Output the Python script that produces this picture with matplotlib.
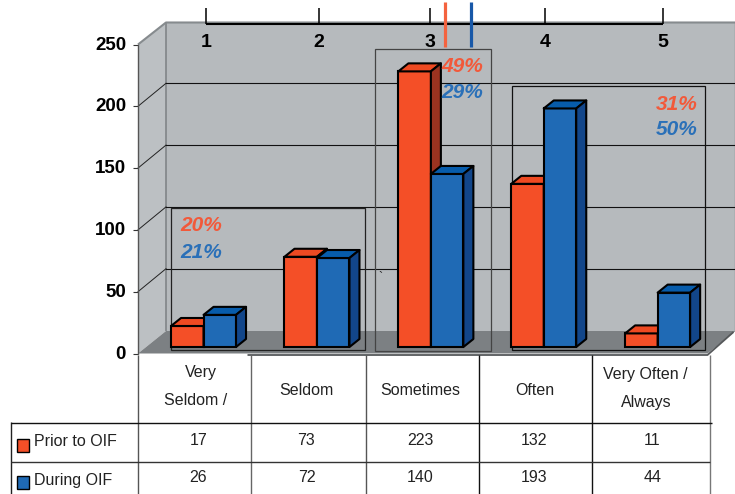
import matplotlib
matplotlib.use("Agg")
import matplotlib.pyplot as plt
from matplotlib.patches import Polygon, Rectangle
from matplotlib.transforms import Affine2D, ScaledTranslation

plt.rcParams['font.family'] = ['Liberation Sans', 'DejaVu Sans']

# values
categories = [["Very", "Seldom /"], ["Seldom"], ["Sometimes"], ["Often"], ["Very Often /", "Always"]]
prior = [17, 73, 223, 132, 11]
during = [26, 72, 140, 193, 44]
yticks = [0, 50, 100, 150, 200, 250]
top_labels = ["1", "2", "3", "4", "5"]
percent_prior = ["20%", "49%", "31%"]
percent_during = ["21%", "29%", "50%"]

ORANGE = ("#f44f27", "#ee4a22", "#9a3320")
BLUE = ("#1f6ab5", "#075cab", "#12468a")
WALL = "#b6babd"
SIDE = "#bcc0c3"
FLOOR = "#7c8083"

W, H = 735, 494
X0, X1 = 138.0, 707.5
Y0, Y250 = 353.5, 44.5

fig = plt.figure(figsize=(W / 100, H / 100), dpi=100)
ax = fig.add_axes([X0 / W, 1 - Y0 / H, (X1 - X0) / W, (Y0 - Y250) / H])
ax.set_xlim(0, 5)
ax.set_ylim(0, 250)
ax.patch.set_visible(False)

# px per data unit
ux = (X1 - X0) / 5
uy = (Y0 - Y250) / 250

# anything that is not data goes in picture pixels
px = Affine2D().scale(1, -1).translate(-0.5, H)

wall_dx = 28 / ux
wall_dy = 23 / uy
right_end = (735 - X0) / ux


def chrome(patch):
    patch.set_transform(px)
    patch.set_clip_on(False)
    ax.add_patch(patch)


def pline(xs, ys, color="black", lw=0.8, z=2):
    ax.plot(xs, ys, color=color, lw=lw, transform=px, clip_on=False, zorder=z,
            solid_capstyle="butt")


def ptext(x, y, s, **kw):
    ax.text(x, y, s, transform=px, ha="center", va="center", clip_on=False, **kw)


# walls and floor
chrome(Polygon([(166.5, 22), (736, 22), (736, 331), (166.5, 331)], fc=WALL, ec="none", zorder=0))
chrome(Polygon([(138.5, 44.5), (166.5, 22), (166.5, 331), (138.5, 353.5)], fc=SIDE, ec="none", zorder=0))
chrome(Polygon([(138.5, 353.5), (166.5, 331), (736, 331), (708, 353.5)], fc=FLOOR, ec="none", zorder=0))
pline([138.5, 166.5, 736], [44.5, 22.5, 22.5], color="#868b8e", lw=1.5, z=1)
pline([166.5, 166.5], [22, 331], color="#85898c", lw=1.3, z=1)
pline([735, 735], [22, 331], color="#85898c", lw=1.0, z=1)
pline([248, 708, 734], [355, 355, 332], color="#55585a", lw=1.3, z=1)

# gridlines
for t in yticks[1:-1]:
    ax.plot([0, wall_dx], [t, t + wall_dy], color="#222222", lw=0.7, clip_on=False, zorder=1)
    ax.plot([wall_dx, right_end], [t + wall_dy, t + wall_dy], color="#111111", lw=0.8, clip_on=False, zorder=1)

# outlined groups
chrome(Rectangle((171.5, 207.5), 194, 142, fc="none", ec="#222222", lw=0.9, zorder=2))
chrome(Rectangle((375.5, 48.5), 116, 302, fc="none", ec="#444444", lw=0.9, zorder=2))
chrome(Rectangle((512.5, 86), 193, 264, fc="none", ec="#111111", lw=0.9, zorder=2))

# bars
bar_w = 32.5 / ux
bar_start = [0.29, 1.286, 2.286, 3.277, 4.277]
base = 6.5 / uy
depth_x = 10 / ux
depth_y = 8 / uy


def box(x, v, cols):
    ax.bar(x, v, bar_w, bottom=base, align="edge", color=cols[0], ec="black", lw=1.5, zorder=3)
    top = base + v
    ax.add_patch(Polygon([(x, top), (x + depth_x, top + depth_y), (x + bar_w + depth_x, top + depth_y),
                          (x + bar_w, top)], fc=cols[1], ec="black", lw=1.5, zorder=3, joinstyle="round"))
    ax.add_patch(Polygon([(x + bar_w, base), (x + bar_w + depth_x, base + depth_y),
                          (x + bar_w + depth_x, top + depth_y), (x + bar_w, top)],
                         fc=cols[2], ec="black", lw=1.5, zorder=3, joinstyle="round"))


for i in range(5):
    box(bar_start[i], prior[i], ORANGE)
    box(bar_start[i] + bar_w, during[i], BLUE)

# y axis
ax.set_yticks(yticks)
ax.set_xticks([])
ax.tick_params(axis="y", length=3.6, width=0.8, pad=5, color="#333333")
for lab in ax.get_yticklabels():
    lab.set_fontweight("bold")
    lab.set_fontsize(13.5)
    lab.set_transform(lab.get_transform() + ScaledTranslation(0, 1 / 72, fig.dpi_scale_trans))
for s in ["top", "right", "bottom"]:
    ax.spines[s].set_visible(False)
ax.spines["left"].set_color("#555555")
ax.spines["left"].set_linewidth(1.0)

# ruler over the chart
ruler_x = [206.5, 319, 430, 545.5, 663]
pline([ruler_x[0], ruler_x[-1]], [23.5, 23.5], lw=1.5, z=5)
for i, x in enumerate(ruler_x):
    pline([x, x], [7.5, 23.5], lw=1.1, z=5)
    ptext(x, 42, top_labels[i], fontsize=14, fontweight="bold", zorder=5)
pline([445.5, 445.5], [2, 47], color="#f4633f", lw=2.3, z=5)
pline([471.5, 471.5], [2, 47], color="#1858a8", lw=2.3, z=5)
ptext(381, 278, "`", fontsize=9, color="#222222", zorder=5)

# percent notes
note_x = [201.5, 463, 677]
note_y = [(225, 252), (66, 92), (104, 129)]
for i in range(3):
    ptext(note_x[i], note_y[i][0], percent_prior[i], fontsize=15, fontweight="bold", fontstyle="italic",
          color="#f2593a", zorder=6)
    ptext(note_x[i], note_y[i][1], percent_during[i], fontsize=15, fontweight="bold", fontstyle="italic",
          color="#2a70b8", zorder=6)

# table under the chart
col_lines = [138.5, 251.5, 366, 479, 592, 710.5]
col_colors = ["#555555", "#666666", "#555555", "#111111", "#111111", "#777777"]
for x, c in zip(col_lines, col_colors):
    pline([x, x], [355, 494], color=c, lw=1.0)
pline([11.5, 11.5], [422, 494], color="#222222", lw=1.0)
pline([11.5, 712], [422.5, 422.5], color="#111111", lw=1.0)
pline([11.5, 710], [461.5, 461.5], color="#333333", lw=1.0)

label_mid = [[201, 196], [307], [421], [535], [646, 647]]
label_y = [[372, 400], [390], [390], [390], [374, 402]]
value_mid = [199, 307, 421, 535, 653]
for i in range(5):
    for j, line in enumerate(categories[i]):
        ptext(label_mid[i][j], label_y[i][j], line, fontsize=11.5, color="#222222")
    ptext(value_mid[i], 440, str(prior[i]), fontsize=11.5, color="#222222")
    ptext(value_mid[i], 477, str(during[i]), fontsize=11.5, color="#222222")

chrome(Rectangle((17, 438.5), 12, 13, fc=ORANGE[0], ec="black", lw=1.0, zorder=3))
chrome(Rectangle((17, 476), 12, 13, fc=BLUE[0], ec="black", lw=1.0, zorder=3))
ax.text(35, 441, "Prior to OIF", transform=px, va="center", fontsize=11.5, color="#222222", clip_on=False)
ax.text(35, 480, "During OIF", transform=px, va="center", fontsize=11.5, color="#222222", clip_on=False)

fig.savefig("out.png", dpi=100, facecolor="white")
